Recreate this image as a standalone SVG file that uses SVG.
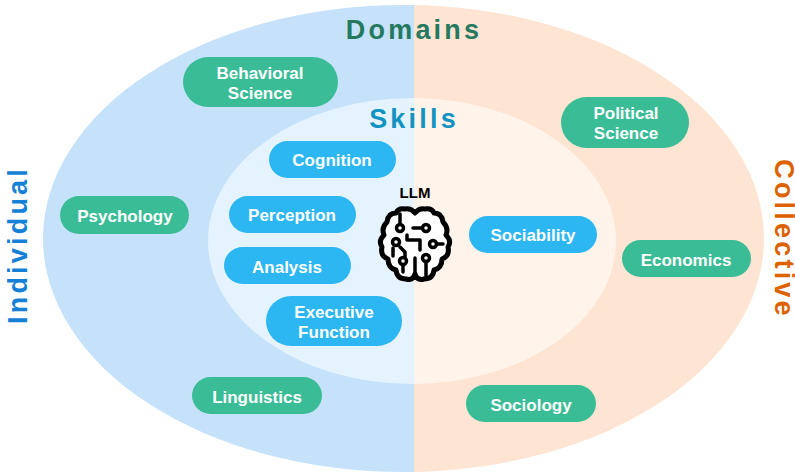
<svg xmlns="http://www.w3.org/2000/svg" width="795" height="475" viewBox="0 0 795 475">
<style>
text{font-family:"Liberation Sans",Arial,sans-serif;font-weight:700;text-anchor:middle}
.d rect{fill:#3abd96}
.s rect{fill:#2cb7f2}
.d text,.s text{fill:#fff;font-size:17px}
.t{font-size:27px;letter-spacing:3.200px}
.b{fill:none;stroke:#000;stroke-linecap:round;stroke-linejoin:round}
</style>
<defs>
<clipPath id="l"><rect x="0" y="0" width="414" height="475"/></clipPath>
<clipPath id="r"><rect x="414" y="0" width="381" height="475"/></clipPath>
</defs>
<rect width="795" height="475" fill="#fff"/>
<g id="backdrop">
<ellipse cx="403.500" cy="238.500" rx="360.500" ry="233.500" fill="#c6e2fb" clip-path="url(#l)"/>
<ellipse cx="403.500" cy="238.500" rx="360.500" ry="233.500" fill="#fee5d3" clip-path="url(#r)"/>
<ellipse cx="412" cy="241" rx="204" ry="143" fill="#e4f3fe" clip-path="url(#l)"/>
<ellipse cx="412" cy="241" rx="204" ry="143" fill="#fff3ea" clip-path="url(#r)"/>
</g>
<g id="titles">
<text class="t" x="414" y="39" fill="#25795f">Domains</text>
<text class="t" x="414" y="128" fill="#1393c1">Skills</text>
<text class="t" transform="translate(27 245) rotate(-90)" fill="#1480d6">Individual</text>
<text class="t" transform="translate(775 239) rotate(90)" fill="#dd6200">Collective</text>
<text x="415" y="198" font-size="15" fill="#000">LLM</text>
</g>
<g id="connectors"/>
<g id="behavioral" class="d"><rect x="183" y="57" width="155" height="50" rx="25"/><text x="260" y="79">Behavioral</text><text x="260" y="99">Science</text></g>
<g id="political" class="d"><rect x="561" y="97" width="128" height="51" rx="25.500"/><text x="626" y="119">Political</text><text x="626" y="139">Science</text></g>
<g id="psychology" class="d"><rect x="60" y="196" width="129" height="38" rx="19"/><text x="125" y="222">Psychology</text></g>
<g id="economics" class="d"><rect x="622" y="240" width="129" height="37" rx="18.500"/><text x="686" y="266">Economics</text></g>
<g id="linguistics" class="d"><rect x="192" y="377" width="130" height="37" rx="18.500"/><text x="257" y="403">Linguistics</text></g>
<g id="sociology" class="d"><rect x="466" y="385" width="130" height="37" rx="18.500"/><text x="531" y="411">Sociology</text></g>
<g id="cognition" class="s"><rect x="269" y="141" width="127" height="37" rx="18.500"/><text x="332" y="166">Cognition</text></g>
<g id="perception" class="s"><rect x="229" y="196" width="127" height="37" rx="18.500"/><text x="292" y="221">Perception</text></g>
<g id="analysis" class="s"><rect x="224" y="247" width="127" height="37" rx="18.500"/><text x="287" y="273">Analysis</text></g>
<g id="executive" class="s"><rect x="266" y="296" width="136" height="50" rx="25"/><text x="334" y="318">Executive</text><text x="334" y="338">Function</text></g>
<g id="sociability" class="s"><rect x="469" y="216" width="128" height="37" rx="18.500"/><text x="533" y="241">Sociability</text></g>
<g id="llm-brain">
<path d="M415 213Q411 208 405 209Q398 208 396 213Q388 213 387 222Q381 228 384 235Q378 241 382 247Q380 256 388 259Q388 268 396 270Q397 279 406 279Q413 281 415 274Q417 281 424 279Q433 279 434 270Q442 268 442 259Q450 256 448 247Q452 241 446 235Q449 228 443 222Q442 213 434 213Q432 208 425 209Q419 208 415 213Z" fill="#fff" stroke="#000" stroke-width="5" stroke-linejoin="round"/>
<g class="b" stroke-width="3.500">
<path d="M400 223V214"/>
<path d="M413 228H422"/>
<path d="M407 235V240H420V250"/>
<path d="M400 247L405 252V257"/>
<path d="M436 244H443"/>
<path d="M403 265V272"/>
<path d="M426 262V276"/>
<path d="M415 258V276"/>
<path d="M393 248V256"/>
</g>
<g fill="#fff" stroke="#000" stroke-width="3.500">
<circle cx="400" cy="228" r="3.500"/><circle cx="426" cy="228" r="3.500"/>
<circle cx="396" cy="242" r="3.500"/><circle cx="433" cy="244" r="3.500"/>
<circle cx="403" cy="261" r="3.500"/><circle cx="426" cy="258" r="3.500"/>
</g>
</g>
</svg>
